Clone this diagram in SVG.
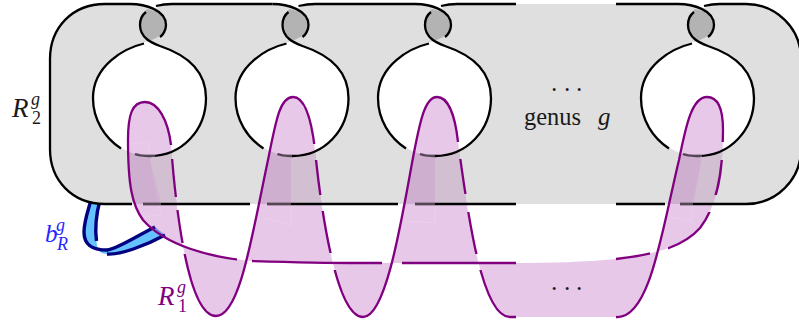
<svg xmlns="http://www.w3.org/2000/svg" width="799" height="323" viewBox="0 0 799 323">
<style>
.k{fill:none;stroke:#000;stroke-width:2.3}
.p{fill:none;stroke:#800080;stroke-width:2.3}
.d{fill:none;stroke:#d4b0d4;stroke-opacity:.4;stroke-width:2.5}
.b{fill:none;stroke:#000080;stroke-width:3.4}
.t{font-family:"Liberation Serif",serif;font-size:25px;fill:#1a1a1a}
.r{font-size:27px}
.i{font-style:italic}
.s{font-size:18px}
.o{fill:#d2c0d2}
.f{fill:none;stroke:#fff;stroke-opacity:.13;stroke-width:1}
</style>
<defs>
<path id="hole" d="M-1,41.5C-25,45-57,65-57,98C-57,130-30,156 0,156C32,156 56,130 56,98C56,65 28,52 10,46C5,44.5 2,43-1,41.5Z" fill="#fff"/>
<path id="lens" d="M-1,41C-10,37-10,25-10,25C-10,18-7,13-3,9C8,11 16,16 16,25C16,33 8,38-1,41Z" fill="#b3b3b3"/>
<g id="twist">
<path class="k" d="M-6,43.5C-25,48-57,65-57,98C-57,120-45,138-29,148.5"/>
<path class="k" d="M-15,154C-10,156-5,156 0,156C32,156 56,130 56,98C56,65 28,52 10,46C2,43-10,38-10,25C-10,20-8,15-4,12"/>
<path class="k" d="M-20,4C-5,4 16,10 16,25C16,30 13,35 10,37"/>
</g>
<path id="purple" d="M145,102C158,102 168,120 171,145C174,185 185,316 216,316C240,316 252,235 268,160C276,120 280,97 293,97C304,97 311,115 315,150C320,200 335,317 363,317C385,317 400,230 412,163C420,120 425,97 437,97C448,97 455,115 458,142C466,200 480,317 510,317H616C650,320 662,230 679,160C686,125 692,97 707,97C718,97 723,108 723,130C723,170 718,205 700,228C685,245 660,254 616,259C585,262 550,263 516,263H360C320,263 285,262 253,261C210,258 165,245 143,220C132,205 128,185 128,140C128,115 132,102 145,102Z"/>
<clipPath id="pc"><use href="#purple" clip-rule="evenodd"/></clipPath>
<mask id="ms" maskUnits="userSpaceOnUse" x="0" y="0" width="799" height="323">
<rect width="799" height="323" fill="#fff"/>
<g fill="#000">
<rect x="164" y="145" width="14" height="14"/><rect x="172" y="197" width="14" height="13"/><rect x="178" y="243" width="14" height="11"/>
<rect x="308" y="144" width="14" height="16"/><rect x="316" y="195" width="14" height="16"/><rect x="327" y="253" width="14" height="17"/>
<rect x="452" y="142" width="16" height="17"/><rect x="459" y="194" width="14" height="18"/><rect x="472" y="254" width="14" height="16"/>
<rect x="516" y="310" width="100" height="12"/>
</g>
</mask>
<mask id="mb" maskUnits="userSpaceOnUse" x="0" y="0" width="799" height="323">
<rect width="799" height="323" fill="#fff"/>
<g fill="#000">
<rect x="716" y="142" width="14" height="18"/><rect x="708" y="195" width="16" height="17"/><rect x="650" y="245" width="18" height="16"/>
<rect x="516" y="255" width="100" height="12"/><rect x="382" y="258" width="20" height="10"/><rect x="237" y="254" width="15" height="12"/>
</g>
</mask>
</defs>

<g id="band-bR">
<path fill="#66c2ff" d="M90,200C86,214 84,222 84,232C84,247 95,250 107,250C117,249 135,237 155,227L165,235C145,246 120,255 107,254C100,254 97,250 96.500,241C95,230 96,215 100,200Z"/>
<path class="b" d="M91,200C87,214 84,222 84,232C84,247 95,250 107,250C117,249 135,237 155,227"/>
<path class="b" d="M100,200C96,215 95,230 96.500,241"/>
<path class="b" d="M107,254C120,255 145,246 165,235"/>
</g>

<g id="surface-R2">
<path fill="#dfdfdf" d="M105,4H130C142,4 148,7 154,9C160,6 165,4 172,4H272.500C285,4 291,7 296.500,9C303,6 308,4 315,4H415C427,4 433,7 439,9C445,6 450,4 457,4H678C690,4 696,7 702,9C708,6 713,4 720,4H746C776,4 801,28 801,59V149C801,180 776,204 746,204H105C72,204 50,180 50,149V59C50,28 72,4 105,4Z"/>
<use href="#hole" x="150"/><use href="#hole" x="292.500"/><use href="#hole" x="435"/><use href="#hole" x="698"/>
<use href="#lens" x="150"/><use href="#lens" x="292.500"/><use href="#lens" x="435"/><use href="#lens" x="698"/>
</g>

<g id="surface-R1">
<use href="#purple" fill="#940094" fill-opacity=".215" fill-rule="evenodd"/>
<g clip-path="url(#pc)">
<path class="o" d="M150,157C160,156 175,152 185,144V204H161Z"/>
<path class="o" d="M291,157C300,156 315,152 330,144V204H291Z"/>
<path class="o" d="M435,156C445,156 460,152 475,144V204H435Z"/>
<path class="o" d="M702,157C710,156 722,152 735,144V204H693Z"/>
<path class="f" d="M128,144L148,142L150,157L161,215L135,217"/>
<path class="f" d="M265,218L291,225V204"/>
<path class="f" d="M405,221L435,223V204"/>
<path class="f" d="M671,217L691,221L693,204"/>
</g>
</g>

<g id="connectors">
<use href="#twist" x="150"/><use href="#twist" x="292.500"/><use href="#twist" x="435"/><use href="#twist" x="698"/>
<path class="k" d="M132,204H105C72,204 50,180 50,149V59C50,28 72,4 105,4H130"/>
<path class="k" d="M156,6C160,5 165,4 172,4H272.500"/>
<path class="k" d="M298.500,6C303,5 308,4 315,4H415"/>
<path class="k" d="M441,6C445,5 450,4 457,4H516"/>
<path class="k" d="M616,4H678"/>
<path class="k" d="M704,6C708,5 713,4 720,4H746C776,4 801,28 801,59V149C801,180 776,204 746,204H680"/>
<path class="k" d="M143,204H250M267,204H398M415,204H516M616,204H665"/>
<path class="d" d="M135,154C140,156 145,156 150,156L155,156M143,204H161"/>
<path class="d" d="M277.500,154C283,156 288,156 292,156M267,204H291"/>
<path class="d" d="M420,154C425,156 430,156 435,156M415,204H435"/>
<path class="d" d="M683,154C688,156 693,156 698,156L702,156M680,204H693"/>
<path class="p" mask="url(#ms)" d="M145,102C158,102 168,120 171,145C174,185 185,316 216,316C240,316 252,235 268,160C276,120 280,97 293,97C304,97 311,115 315,150C320,200 335,317 363,317C385,317 400,230 412,163C420,120 425,97 437,97C448,97 455,115 458,142C466,200 480,317 510,317H616C650,320 662,230 679,160C686,125 692,97 707,97"/>
<path class="p" mask="url(#mb)" d="M707,97C718,97 723,108 723,130C723,170 718,205 700,228C685,245 660,254 616,259C585,262 550,263 516,263H360C320,263 285,262 253,261C210,258 165,245 143,220C132,205 128,185 128,140C128,115 132,102 145,102"/>
</g>

<g id="label-R2g">
<text class="t i r" x="12" y="117">R</text><text class="t i s" x="31" y="105">g</text><text class="t s" x="32" y="124">2</text>
</g>
<g id="label-bRg">
<text class="t i" style="fill:#2626ff" x="45" y="242">b</text><text class="t i s" style="fill:#2626ff" x="56" y="231">g</text><text class="t i s" style="fill:#2626ff" x="57" y="250">R</text>
</g>
<g id="label-R1g">
<text class="t i r" style="fill:#800080" x="158" y="305">R</text><text class="t i s" style="fill:#800080" x="177" y="293">g</text><text class="t s" style="fill:#800080" x="178" y="312">1</text>
</g>
<g id="label-genus">
<text class="t" x="550 563 575" y="98">···</text>
<text class="t" x="524" y="125" textLength="57" lengthAdjust="spacingAndGlyphs">genus</text>
<text class="t i" x="598" y="125">g</text>
</g>
<g id="label-dots">
<text class="t" x="550 563 575" y="297">···</text>
</g>
</svg>
